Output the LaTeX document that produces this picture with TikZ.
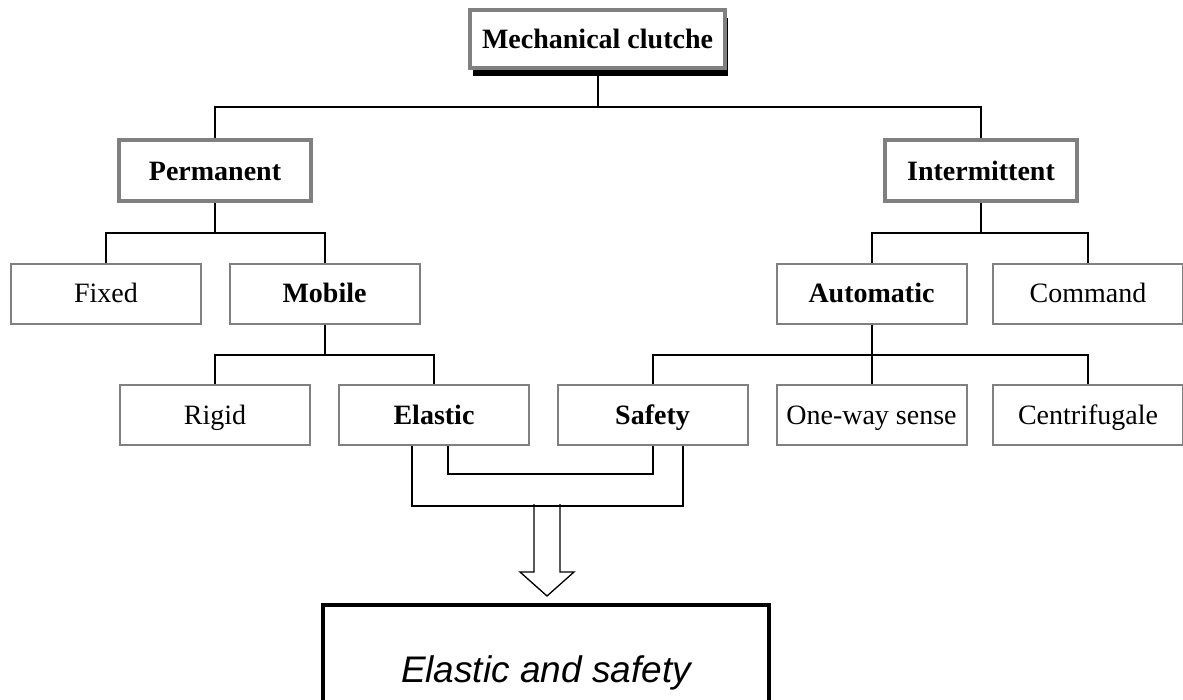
\documentclass[tikz,border=0pt]{standalone}
\usepackage{fontspec}
\setmainfont{Liberation Serif}
\newfontfamily\arialfont{Liberation Sans}
\usetikzlibrary{shadows}
\definecolor{boxgray}{HTML}{808080}
\newcommand{\labelsize}{\fontsize{28}{32}\selectfont}

\begin{document}
\begin{tikzpicture}[x=1pt, y=-1pt, align=center]
	% Node styles
	\tikzstyle{root} = [rectangle, draw=boxgray, line width=4pt, fill=white, minimum width=255pt, minimum height=58pt, text height=20pt, text depth=1pt, drop shadow={shadow xshift=3pt, shadow yshift=-8pt, fill=black, opacity=1}, font=\labelsize\bfseries]
	\tikzstyle{branch} = [rectangle, draw=boxgray, line width=4pt, fill=white, minimum width=192pt, minimum height=61pt, text height=20pt, text depth=1pt, font=\labelsize\bfseries]
	\tikzstyle{leaf} = [rectangle, draw=boxgray, line width=2pt, minimum width=190pt, minimum height=60pt, text height=20pt, text depth=2pt, font=\labelsize]
	\tikzstyle{leafbold} = [leaf, font=\labelsize\bfseries]
	\tikzstyle{result} = [rectangle, draw, line width=4pt, minimum width=446pt, minimum height=136pt, font=\arialfont\itshape\fontsize{37}{40}\selectfont]
	\tikzstyle{link} = [line width=2pt, black]
	\tikzstyle{hollow} = [line width=1.3pt, fill=white]

	\useasboundingbox (0,0) rectangle (1183,699);

	% Nodes
	\node[root] (clutch) at (597.5,39) {Mechanical clutche};
	\node[branch] (permanent) at (215,170.5) {Permanent};
	\node[branch] (intermittent) at (981,170.5) {Intermittent};
	\node[leaf] (fixed) at (106,293.5) {Fixed};
	\node[leafbold] (mobile) at (324.5,293.5) {Mobile};
	\node[leafbold] (automatic) at (871.5,293.5) {Automatic};
	\node[leaf] (command) at (1088,293.5) {Command};
	\node[leaf] (rigid) at (215,415) {Rigid};
	\node[leafbold] (elastic) at (434,415) {Elastic};
	\node[leafbold] (safety) at (652.5,415) {Safety};
	\node[leaf] (oneway) at (871.5,415) {One-way sense};
	\node[leaf] (centri) at (1088,415) {Centrifugale};
	\node[result] (combined) at (546,673) {Elastic and safety};
	\coordinate (fork) at (547,504);

	% Arrows
	\draw[hollow] ([xshift=-13pt]fork) -- ++(0,68) -- ++(-14,0) -- ++(27,24) -- ++(27,-24) -- ++(-14,0) -- ++(0,-68);

	% Lines
	\draw[link] (clutch.south) -- ++(0,37) -| (permanent.north);
	\draw[link] (clutch.south) -- ++(0,37) -| (intermittent.north);
	\draw[link] (permanent.south) -- ++(0,30) -| (fixed.north);
	\draw[link] (permanent.south) -- ++(0,30) -| (mobile.north);
	\draw[link] (intermittent.south) -- ++(0,30) -| (automatic.north);
	\draw[link] (intermittent.south) -- ++(0,30) -| (command.north);
	\draw[link] (mobile.south) -- ++(0,30) -| (rigid.north);
	\draw[link] (mobile.south) -- ++(0,30) -| (elastic.north);
	\draw[link] (automatic.south) -- ++(0,30) -| (safety.north);
	\draw[link] (automatic.south) -- ++(0,30) -| (oneway.north);
	\draw[link] (automatic.south) -- ++(0,30) -| (centri.north);
	\draw[link] ([xshift=14pt]elastic.south) -- ++(0,28) -| (safety.south);
	\draw[link] ([xshift=-22pt]elastic.south) -- ++(0,60) -| ([xshift=30pt]safety.south);
\end{tikzpicture}
\end{document}
